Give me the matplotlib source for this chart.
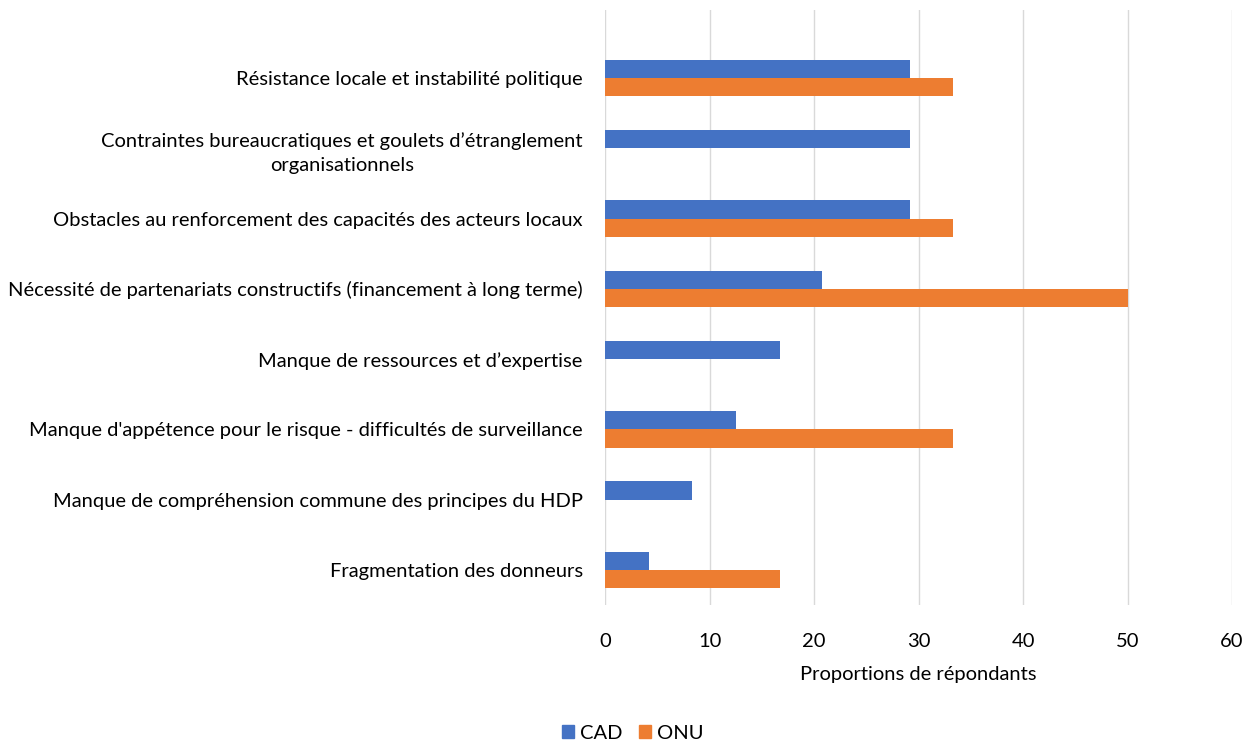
import matplotlib
matplotlib.use('Agg')
from matplotlib import pyplot as plt
from matplotlib.patches import Patch
import numpy as np

plt.rcParams['font.family'] = ['Lato', 'DejaVu Sans']

# données (du bas vers le haut)
categories = [
    'Fragmentation des donneurs',
    'Manque de compréhension commune des principes du HDP',
    "Manque d'appétence pour le risque - difficultés de surveillance",
    'Manque de ressources et d’expertise',
    'Nécessité de partenariats constructifs (financement à long terme)',
    'Obstacles au renforcement des capacités des acteurs locaux',
    'Contraintes bureaucratiques et goulets d’étranglement\norganisationnels',
    'Résistance locale et instabilité politique',
]
cad = [4.2, 8.3, 12.5, 16.7, 20.8, 29.2, 29.2, 29.2]
onu = [16.7, 0, 33.3, 0, 50.0, 33.3, 0, 33.3]
xticks = [0, 10, 20, 30, 40, 50, 60]

bleu = '#4472C4'
orange = '#ED7D31'
fs = 14.5

fig = plt.figure(figsize=(12.45, 7.42), dpi=100)
ax = fig.add_axes([0.486, 0.1846, 0.5036, 0.802])

y = np.arange(len(categories))
h = 0.26
ax.barh(y + h / 2, cad, height=h, color=bleu, zorder=3)
ax.barh(y - h / 2, onu, height=h, color=orange, zorder=3)

ax.set_xlim(0, 60)
ax.set_ylim(-0.5, 7.97)
ax.set_xticks(xticks)
ax.set_yticks(y)
ax.set_yticklabels(categories, fontsize=fs, multialignment='center', linespacing=1.5)
ax.tick_params(axis='y', length=0, pad=16)
ax.tick_params(axis='x', length=0, pad=20, labelsize=fs)
for s in ax.spines.values():
    s.set_visible(False)
ax.grid(axis='x', color='#D9D9D9', linewidth=1, zorder=0)
ax.set_xlabel('Proportions de répondants', fontsize=fs, labelpad=12)

handles = [Patch(color=bleu, label='CAD'), Patch(color=orange, label='ONU')]
fig.legend(handles=handles, loc='center', bbox_to_anchor=(0.508, 0.012), ncol=2,
           frameon=False, fontsize=fs, handlelength=0.6, handleheight=0.6,
           handletextpad=0.3, columnspacing=0.8)

plt.savefig('out.png', dpi=100)
